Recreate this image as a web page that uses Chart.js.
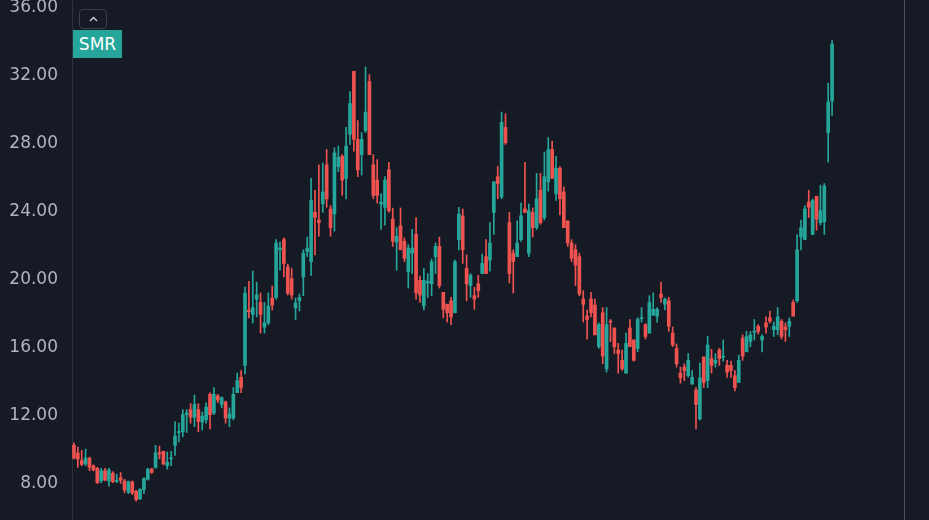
<!DOCTYPE html>
<html>
<head>
<meta charset="utf-8">
<title>SMR</title>
<script src="https://cdn.jsdelivr.net/npm/chart.js@4.4.1/dist/chart.umd.min.js"></script>
<style>
  html, body { margin: 0; padding: 0; background: #161a25; }
  #wrap { position: relative; width: 929px; height: 520px; overflow: hidden; }
  #wrap canvas { display: block; }
  .collapse-btn {
    position: absolute; left: 79px; top: 9px; width: 28px; height: 20px;
    box-sizing: border-box; border: 1px solid #3a3e4a; border-radius: 4px;
    background: #161a25;
  }
  .collapse-btn svg { position: absolute; left: 9px; top: 6px; }
  .ticker {
    position: absolute; left: 73px; top: 30px; width: 49px; height: 28px;
    background: #26a69a; color: #ffffff; text-align: center;
    font: 17px "DejaVu Sans", sans-serif; line-height: 28px;
  }
</style>
</head>
<body>
<div id="wrap">
  <canvas id="myChart" width="929" height="520"></canvas>
  <div class="collapse-btn"><svg width="9" height="6" viewBox="0 0 9 6"><polyline points="1,5 4.5,1.5 8,5" fill="none" stroke="#d1d4dc" stroke-width="1.3"/></svg></div>
  <div class="ticker">SMR</div>
</div>
<script>
// daily candles, oldest first
const opens = [
  10.1, 9.65, 9.2, 9.0, 9.35, 8.9, 8.76, 8.0, 8.6, 8.0,
  8.45, 7.98, 8.2, 8.0, 7.35, 7.95, 7.4, 6.95, 7.5, 8.1,
  8.7, 8.8, 9.65, 9.75, 8.9, 9.3, 10.1, 10.85, 10.9, 11.9,
  12.2, 11.75, 12.2, 11.47, 11.6, 13.1, 12.0, 13.0, 12.5, 12.65,
  11.7, 11.7, 13.2, 14.1, 14.8, 18.05, 17.8, 18.7, 18.5, 17.05,
  17.3, 18.76, 18.8, 21.6, 22.2, 20.6, 19.9, 18.18, 18.6, 20.0,
  21.5, 20.9, 23.8, 23.35, 24.3, 26.6, 24.0, 23.7, 26.5, 27.1,
  25.8, 28.4, 32.1, 28.1, 27.2, 28.6, 31.5, 26.6, 25.7, 24.3,
  24.1, 26.3, 23.4, 22.06, 23.0, 22.1, 20.3, 21.4, 22.5, 19.8,
  18.3, 19.65, 19.6, 21.2, 21.8, 19.1, 18.4, 18.6, 17.9, 22.2,
  23.6, 20.5, 19.5, 18.9, 19.6, 20.2, 21.2, 21.0, 23.8, 25.9,
  24.7, 28.8, 23.2, 21.4, 21.2, 22.2, 24.0, 21.4, 23.8, 22.9,
  25.1, 23.5, 25.6, 27.5, 24.9, 26.4, 25.0, 23.3, 22.0, 21.6,
  21.2, 18.7, 17.7, 18.7, 18.35, 15.9, 17.9, 14.6, 17.4, 17.0,
  15.7, 15.1, 14.35, 17.0, 16.3, 15.8, 17.55, 17.2, 16.7, 17.75,
  17.7, 19.0, 18.4, 18.6, 16.7, 15.8, 14.35, 14.7, 14.2, 13.7,
  13.35, 11.65, 15.3, 13.9, 15.2, 14.94, 15.7, 15.28, 14.8, 14.8,
  14.2, 13.8, 16.4, 15.6, 16.2, 16.75, 17.1, 16.3, 17.3, 17.6,
  16.9, 16.9, 17.4, 17.06, 17.1, 18.5, 18.6, 22.35, 22.2, 24.4,
  22.5, 24.75, 23.2, 23.25, 28.5, 30.35,
];
const highs = [
  10.25, 10.0, 9.8, 9.88, 9.4, 8.95, 8.8, 8.75, 8.75, 8.75,
  8.55, 8.4, 8.5, 8.1, 8.0, 8.0, 7.45, 7.55, 8.2, 8.75,
  8.75, 10.1, 10.05, 9.75, 9.7, 9.75, 11.5, 11.4, 12.2, 12.2,
  12.55, 13.05, 12.55, 12.06, 12.6, 13.18, 13.5, 13.1, 12.95, 12.7,
  12.3, 13.5, 14.35, 14.5, 19.4, 19.75, 20.35, 19.7, 19.06, 18.5,
  19.06, 19.47, 22.2, 22.06, 22.3, 20.76, 20.5, 18.76, 19.0, 21.6,
  22.35, 25.8, 25.1, 26.6, 26.7, 27.5, 24.2, 27.6, 27.7, 27.2,
  28.8, 30.9, 32.1, 29.2, 28.5, 32.35, 31.9, 27.2, 26.9, 24.9,
  25.9, 26.75, 24.05, 22.9, 24.06, 22.3, 21.9, 22.8, 23.5, 20.06,
  20.5, 20.2, 21.06, 22.0, 22.35, 19.1, 18.4, 18.8, 21.0, 24.1,
  24.0, 21.3, 20.2, 19.4, 20.1, 21.35, 22.2, 23.2, 25.6, 26.5,
  29.7, 29.6, 23.8, 21.6, 23.3, 24.35, 26.75, 24.3, 24.06, 26.1,
  26.1, 27.35, 28.2, 28.0, 27.1, 26.5, 25.3, 23.3, 22.2, 21.9,
  21.4, 19.2, 18.06, 19.1, 18.7, 17.3, 18.2, 18.2, 17.5, 17.0,
  16.1, 15.7, 16.7, 17.5, 16.3, 17.6, 18.2, 17.25, 18.9, 19.06,
  18.2, 19.7, 18.76, 18.8, 17.06, 16.06, 14.7, 14.9, 15.5, 14.5,
  13.5, 14.94, 15.3, 16.5, 15.75, 15.5, 15.8, 16.3, 15.1, 15.06,
  14.5, 15.4, 16.6, 16.8, 16.8, 17.5, 17.2, 16.6, 17.65, 18.0,
  17.35, 18.2, 17.5, 17.3, 17.6, 18.65, 22.5, 23.35, 24.2, 25.1,
  24.6, 24.75, 25.4, 25.5, 31.4, 33.9,
];
const lows = [
  9.3, 8.8, 8.9, 8.9, 8.6, 8.6, 7.85, 7.9, 8.0, 7.7,
  7.9, 7.9, 7.85, 7.3, 7.25, 7.2, 6.82, 6.9, 7.25, 8.05,
  8.45, 8.75, 9.3, 8.95, 8.7, 8.9, 9.5, 10.3, 10.6, 10.85,
  11.4, 11.2, 10.9, 11.0, 11.4, 11.06, 11.9, 12.6, 12.3, 11.4,
  11.2, 11.6, 13.2, 13.2, 14.3, 17.6, 17.3, 17.65, 16.7, 16.7,
  17.2, 18.06, 18.7, 20.4, 20.0, 18.94, 18.7, 17.5, 18.0, 18.9,
  21.2, 20.1, 21.3, 22.4, 23.8, 24.1, 22.4, 22.7, 26.2, 24.8,
  24.6, 27.8, 27.4, 25.9, 26.0, 28.5, 27.2, 24.6, 24.35, 22.8,
  23.05, 23.8, 21.8, 20.4, 21.6, 20.9, 19.35, 20.2, 18.7, 18.5,
  18.06, 18.8, 18.9, 20.2, 19.35, 17.6, 17.35, 17.2, 17.88, 21.6,
  20.8, 18.6, 18.8, 18.1, 18.8, 20.2, 20.2, 20.35, 22.5, 24.6,
  24.6, 27.8, 19.65, 19.06, 21.2, 22.1, 23.8, 21.2, 22.35, 22.8,
  23.1, 23.35, 25.05, 25.8, 24.5, 23.65, 22.9, 21.8, 20.9, 19.5,
  18.9, 17.35, 16.35, 17.65, 16.6, 15.8, 14.9, 14.4, 16.2, 15.5,
  14.35, 14.5, 14.35, 15.9, 15.05, 15.6, 17.35, 16.35, 16.7, 17.75,
  17.35, 18.5, 18.06, 16.8, 15.9, 14.7, 13.76, 13.9, 14.1, 13.7,
  11.06, 11.6, 13.5, 13.5, 14.35, 14.7, 14.8, 15.06, 14.1, 14.1,
  13.3, 13.8, 15.1, 15.6, 15.9, 16.3, 16.65, 15.6, 16.7, 17.3,
  16.5, 16.6, 16.35, 16.2, 16.5, 17.7, 18.5, 21.6, 22.2, 23.5,
  22.5, 22.75, 23.06, 22.5, 26.76, 29.5,
];
const closes = [
  9.35, 9.29, 8.98, 9.35, 8.8, 8.65, 7.9, 8.6, 8.05, 8.65,
  7.95, 8.02, 8.05, 7.47, 7.95, 7.3, 6.9, 7.5, 8.15, 8.7,
  8.5, 9.65, 9.6, 9.0, 9.1, 9.35, 10.65, 10.9, 11.9, 12.0,
  11.75, 12.5, 11.5, 11.82, 12.35, 11.9, 13.1, 12.76, 12.9, 11.7,
  11.94, 13.1, 13.9, 13.5, 19.05, 17.95, 18.2, 18.95, 17.8, 17.3,
  18.3, 18.35, 22.0, 21.7, 20.8, 19.06, 18.94, 18.47, 18.8, 21.4,
  21.7, 24.5, 23.5, 23.2, 25.0, 24.6, 22.9, 27.3, 27.05, 25.7,
  27.7, 30.2, 28.1, 26.3, 28.1, 29.7, 27.2, 24.8, 24.8, 24.4,
  25.7, 23.9, 22.1, 22.4, 21.6, 21.1, 21.7, 21.7, 19.06, 18.94,
  19.8, 19.75, 20.9, 21.8, 19.5, 18.1, 17.9, 17.65, 20.9, 23.7,
  21.6, 19.6, 20.1, 18.7, 19.2, 20.8, 20.2, 22.0, 25.6, 25.5,
  29.1, 27.9, 20.2, 20.9, 22.0, 23.6, 23.8, 23.9, 22.9, 24.6,
  23.2, 25.9, 27.5, 25.8, 26.4, 24.6, 22.9, 22.0, 21.1, 20.7,
  19.0, 18.4, 17.5, 17.9, 16.6, 17.2, 15.35, 17.2, 17.35, 15.9,
  15.5, 14.6, 16.1, 15.9, 15.1, 17.5, 17.6, 16.5, 18.5, 18.1,
  18.1, 18.8, 18.7, 17.1, 16.0, 14.9, 14.06, 14.5, 15.1, 14.1,
  12.5, 14.06, 13.8, 16.0, 14.8, 15.1, 15.2, 15.32, 14.4, 14.5,
  13.5, 15.1, 15.35, 16.5, 16.6, 16.8, 16.8, 16.5, 17.06, 17.4,
  17.1, 17.65, 16.5, 16.9, 17.4, 17.7, 21.6, 22.9, 24.0, 24.1,
  24.5, 23.4, 23.9, 25.35, 30.3, 33.7,
];
const priceTicks = [8, 12, 16, 20, 24, 28, 32, 36];
const futureSlots = 18; // empty space right of the last bar

const UP = "#26a69a";
const DOWN = "#ef5350";

const chartApp = (function () {
  function buildLabels() {
    const labels = opens.map((_, i) => "Day " + (i + 1));
    for (let i = 0; i < futureSlots; i++) labels.push("");
    return labels;
  }

  const frameLine = {
    id: "frameLine",
    afterDraw(chart) {
      const { ctx, chartArea } = chart;
      ctx.save();
      ctx.strokeStyle = "#4a4e5a";
      ctx.lineWidth = 1;
      ctx.beginPath();
      ctx.moveTo(Math.round(chartArea.right) + 0.5, 0);
      ctx.lineTo(Math.round(chartArea.right) + 0.5, chart.height);
      ctx.stroke();
      ctx.restore();
    },
  };

  function initChart() {
    const ctx = document.getElementById("myChart");
    const colors = opens.map((o, i) => (closes[i] >= o ? UP : DOWN));
    const wicks = lows.map((l, i) => [
      Math.min(l, opens[i], closes[i]),
      Math.max(highs[i], opens[i], closes[i]),
    ]);
    const bodies = opens.map((o, i) => [o, closes[i]]);

    new Chart(ctx, {
      type: "bar",
      data: {
        labels: buildLabels(),
        datasets: [
          {
            label: "wick",
            data: wicks,
            backgroundColor: colors,
            barThickness: 1,
            grouped: false,
            borderWidth: 0,
            order: 2,
          },
          {
            label: "body",
            data: bodies,
            backgroundColor: colors,
            barThickness: 3,
            minBarLength: 1,
            grouped: false,
            borderWidth: 0,
            order: 1,
          },
        ],
      },
      options: {
        responsive: false,
        animation: false,
        layout: { padding: { left: 0, right: 25, top: 0, bottom: 0 } },
        plugins: {
          legend: { display: false },
          tooltip: { enabled: false },
        },
        scales: {
          x: {
            type: "category",
            offset: true,
            display: false,
          },
          y: {
            position: "left",
            min: 5.706,
            max: 36.294,
            afterBuildTicks: function (axis) {
              axis.ticks = priceTicks.map((v) => ({ value: v }));
            },
            afterFit: function (axis) {
              axis.width = 72;
              axis.paddingTop = 0;
              axis.paddingBottom = 0;
            },
            grid: { display: false, drawTicks: false },
            border: { display: true, color: "#2e323e" },
            ticks: {
              color: "#b2b5be",
              padding: 14,
              labelOffset: 3,
              font: { family: "DejaVu Sans", size: 17 },
              callback: (v) => Number(v).toFixed(2),
            },
          },
        },
      },
      plugins: [frameLine],
    });
  }

  return {
    init: function () {
      initChart();
    },
  };
})();

document.addEventListener("DOMContentLoaded", function () {
  chartApp.init();
});
</script>
</body>
</html>
